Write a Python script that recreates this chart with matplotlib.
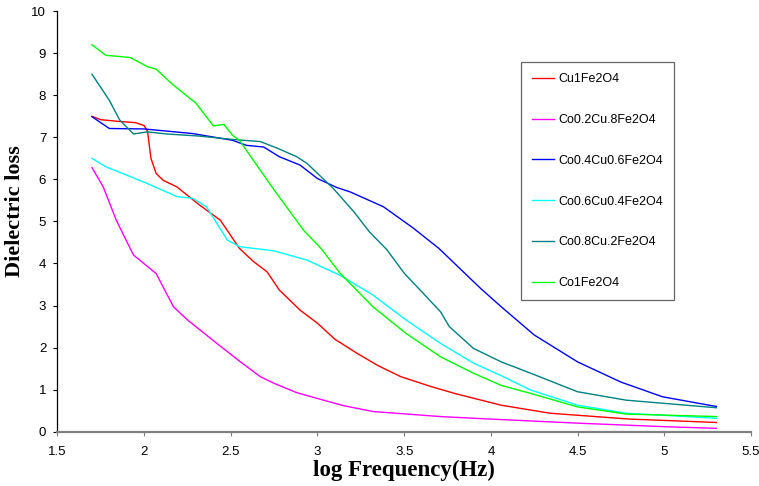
import matplotlib.pyplot as plt

# log frequency / dielectric loss
x_cu1 = [1.7, 1.75, 1.85, 1.95, 2.0, 2.02, 2.04, 2.07, 2.11, 2.19, 2.32, 2.44, 2.55, 2.63, 2.71, 2.78, 2.9, 3.0, 3.1, 3.23, 3.35, 3.48, 3.65, 3.8, 4.06, 4.34, 4.8, 5.3]
y_cu1 = [7.5, 7.42, 7.38, 7.35, 7.28, 7.15, 6.5, 6.14, 5.98, 5.82, 5.39, 5.03, 4.36, 4.05, 3.8, 3.37, 2.89, 2.58, 2.2, 1.86, 1.57, 1.31, 1.08, 0.9, 0.63, 0.44, 0.3, 0.22]

x_co02 = [1.7, 1.765, 1.84, 1.92, 1.94, 2.07, 2.17, 2.25, 2.42, 2.55, 2.67, 2.75, 2.88, 3.0, 3.15, 3.32, 3.71, 4.0, 4.52, 5.0, 5.3]
y_co02 = [6.28, 5.82, 5.03, 4.36, 4.2, 3.76, 2.97, 2.66, 2.1, 1.68, 1.31, 1.15, 0.93, 0.79, 0.62, 0.48, 0.36, 0.3, 0.2, 0.12, 0.08]

x_co04 = [1.7, 1.8, 2.0, 2.28, 2.51, 2.59, 2.69, 2.78, 2.9, 3.0, 3.11, 3.19, 3.38, 3.55, 3.7, 3.94, 4.06, 4.25, 4.5, 4.75, 4.99, 5.3]
y_co04 = [7.49, 7.21, 7.2, 7.09, 6.93, 6.81, 6.77, 6.54, 6.34, 6.02, 5.81, 5.7, 5.35, 4.85, 4.36, 3.41, 2.97, 2.3, 1.66, 1.18, 0.83, 0.6]

x_co06 = [1.7, 1.78, 1.9, 2.02, 2.19, 2.28, 2.36, 2.48, 2.55, 2.75, 2.94, 3.13, 3.32, 3.51, 3.71, 3.9, 4.06, 4.23, 4.5, 4.78, 5.3]
y_co06 = [6.5, 6.3, 6.1, 5.9, 5.59, 5.55, 5.35, 4.56, 4.4, 4.3, 4.08, 3.72, 3.25, 2.66, 2.1, 1.63, 1.33, 0.99, 0.63, 0.44, 0.32]

x_co08 = [1.7, 1.8, 1.86, 1.94, 2.02, 2.13, 2.32, 2.51, 2.67, 2.77, 2.88, 2.94, 3.09, 3.21, 3.3, 3.4, 3.5, 3.61, 3.71, 3.76, 3.9, 4.06, 4.23, 4.5, 4.78, 5.3]
y_co08 = [8.5, 7.88, 7.41, 7.08, 7.13, 7.08, 7.03, 6.95, 6.9, 6.74, 6.54, 6.38, 5.79, 5.23, 4.75, 4.33, 3.77, 3.29, 2.85, 2.5, 1.98, 1.66, 1.39, 0.95, 0.75, 0.57]

x_co1 = [1.7, 1.78, 1.92, 2.02, 2.07, 2.17, 2.3, 2.4, 2.46, 2.51, 2.55, 2.67, 2.75, 2.92, 3.02, 3.13, 3.32, 3.51, 3.71, 3.9, 4.06, 4.23, 4.5, 4.78, 5.3]
y_co1 = [9.2, 8.95, 8.9, 8.68, 8.62, 8.24, 7.81, 7.27, 7.31, 7.05, 6.93, 6.22, 5.75, 4.79, 4.36, 3.77, 2.97, 2.34, 1.78, 1.39, 1.1, 0.91, 0.59, 0.42, 0.36]

series = [
    ("Cu1Fe2O4", x_cu1, y_cu1, "#ff0000"),
    ("Co0.2Cu.8Fe2O4", x_co02, y_co02, "#ff00ff"),
    ("Co0.4Cu0.6Fe2O4", x_co04, y_co04, "#0000ff"),
    ("Co0.6Cu0.4Fe2O4", x_co06, y_co06, "#00ffff"),
    ("Co0.8Cu.2Fe2O4", x_co08, y_co08, "#008080"),
    ("Co1Fe2O4", x_co1, y_co1, "#00ff00"),
]

plt.rcParams['font.family'] = ['Liberation Sans', 'DejaVu Sans']

fig = plt.figure(figsize=(7.59, 4.86), dpi=100)
ax = fig.add_axes([0.0755, 0.1117, 0.914, 0.8653])

for label, xs, ys, color in series:
    ax.plot(xs, ys, color=color, lw=1.0, label=label)

ax.set_xlim(1.5, 5.5)
ax.set_ylim(0, 10)
ax.set_xticks([1.5, 2, 2.5, 3, 3.5, 4, 4.5, 5, 5.5])
ax.set_xticklabels(["1.5", "2", "2.5", "3", "3.5", "4", "4.5", "5", "5.5"])
ax.set_yticks(range(0, 11))

ax.spines['top'].set_visible(False)
ax.spines['right'].set_visible(False)
ax.spines['bottom'].set_color('#808080')
ax.spines['bottom'].set_linewidth(1.6)
ax.spines['left'].set_linewidth(0.9)
ax.tick_params(axis='x', direction='out', length=3, color='#808080', labelsize=9.5, pad=7)
ax.tick_params(axis='y', direction='out', length=3, labelsize=9.5, pad=5)

ax.set_xlabel("log Frequency(Hz)", fontsize=16.5, fontweight='bold',
              family=['Liberation Serif', 'DejaVu Serif'])
ax.set_ylabel("Dielectric loss", fontsize=16, fontweight='bold',
              family=['Liberation Serif', 'DejaVu Serif'])
ax.xaxis.set_label_coords(0.5, -0.068)
ax.yaxis.set_label_coords(-0.047, 0.525)

leg = ax.legend(loc='upper left', bbox_to_anchor=(0.668, 0.879), borderaxespad=0,
                fontsize=9, frameon=True, fancybox=False, labelspacing=2.3,
                handlelength=1.8, handletextpad=0.3, borderpad=0.9)
leg.get_frame().set_edgecolor('#404040')
leg.get_frame().set_linewidth(0.9)

fig.savefig("out.png", dpi=100)
